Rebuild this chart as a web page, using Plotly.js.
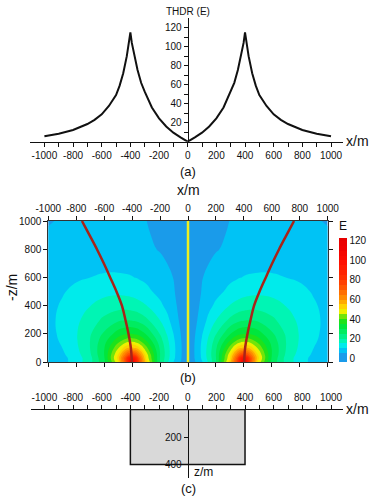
<!DOCTYPE html>
<html><head><meta charset="utf-8">
<script src="https://cdn.plot.ly/plotly-3.0.1.min.js"></script>
<style>html,body{margin:0;padding:0;background:#fff;}#chart{width:376px;height:498px;}</style>
</head><body><div id="chart"></div>
<script>
// ---------- (a) THDR profile at surface ----------
const profileX = [-1000,-900,-800,-700,-650,-600,-550,-500,-475,-450,-425,-410,-400,-390,-375,-350,-325,-300,-250,-200,-150,-100,-50,0,50,100,150,200,250,300,325,350,375,390,400,410,425,450,475,500,550,600,650,700,800,900,1000];
const profileE = [5.7,8.4,12.3,18.6,23,28.8,37.6,49,59,72,90,103,115,104,93,75.5,62,52.6,36,24.6,16,9.5,4.5,0,4.5,9.5,16,24.6,36,52.6,62,75.5,93,104,115,103,90,72,59,49,37.6,28.8,23,18.6,12.3,8.4,5.7];
const aXTickVals = [-1000,-900,-800,-700,-600,-500,-400,-300,-200,-100,0,100,200,300,400,500,600,700,800,900,1000];
const aXTickText = ['-1000','','-800','','-600','','-400','','-200','','0','','200','','400','','600','','800','','1000'];
const aYTickVals = [10,20,30,40,50,60,70,80,90,100,110,120];
const aYTickText = ['','20','','40','','60','','80','','100','','120'];

// ---------- (b) THDR section (x, height, E) ----------
const gridX = [-1000,-900,-800,-700,-600,-500,-450,-425,-400,-375,-350,-300,-200,-150,-100,0,100,150,200,300,350,375,400,425,450,500,600,700,800,900,1000];
const gridZ = [0,25,50,100,150,200,300,400,500,600,700,800,900,1000];
const row0    = [5.7,8.4,12.3,18.6,28.8,49,72,92,115,93,75.5,52.6,24.6,16,9.5,0,9.5,16,24.6,52.6,75.5,93,115,92,72,49,28.8,18.6,12.3,8.4,5.7];
const row25   = [6.1,8.5,12.2,18.4,29.4,51.7,74,91.3,104,90.7,73,49.6,24.8,17,10.6,0,10.6,17,24.8,49.6,73,90.7,104,91.3,74,51.7,29.4,18.4,12.2,8.5,6.1];
const row50   = [6.6,9.1,12.9,19.3,30.0,50.3,66.8,75.4,79.3,74.8,65.6,48.0,25.1,17.5,10.9,0,10.9,17.5,25.1,48.0,65.6,74.8,79.3,75.4,66.8,50.3,30.0,19.3,12.9,9.1,6.6];
const row100  = [7.4,10.0,14.0,20.1,29.7,44.4,52.4,55.1,55.9,54.4,51.1,41.8,24.2,17.2,11.0,0,11.0,17.2,24.2,41.8,51.1,54.4,55.9,55.1,52.4,44.4,29.7,20.1,14.0,10.0,7.4];
const row150  = [8.0,10.7,14.5,20.1,28.1,38.0,42.0,43.1,43.2,42.4,40.6,35.2,22.2,16.2,10.5,0,10.5,16.2,22.2,35.2,40.6,42.4,43.2,43.1,42.0,38.0,28.1,20.1,14.5,10.7,8.0];
const row200  = [8.5,11.0,14.6,19.5,25.8,32.4,34.5,35.0,34.9,34.2,33.1,29.5,19.7,14.7,9.6,0,9.6,14.7,19.7,29.5,33.1,34.2,34.9,35.0,34.5,32.4,25.8,19.5,14.6,11.0,8.5];
const row300  = [8.8,11.1,13.9,17.4,21.1,23.9,24.5,24.5,24.2,23.8,23.0,20.9,14.8,11.3,7.5,0,7.5,11.3,14.8,20.9,23.0,23.8,24.2,24.5,24.5,23.9,21.1,17.4,13.9,11.1,8.8];
const row400  = [8.7,10.5,12.6,14.9,16.9,18.1,18.1,17.9,17.6,17.2,16.6,15.2,11.0,8.7,6.2,0,6.2,8.7,11.0,15.2,16.6,17.2,17.6,17.9,18.1,18.1,16.9,14.9,12.6,10.5,8.7];
const row500  = [8.2,9.6,11.1,12.5,13.6,13.9,13.7,13.5,13.2,12.9,12.4,11.2,8.5,7.0,5.3,0,5.3,7.0,8.5,11.2,12.4,12.9,13.2,13.5,13.7,13.9,13.6,12.5,11.1,9.6,8.2];
const row600  = [7.5,8.5,9.4,10.0,10.5,10.6,10.5,10.4,10.2,9.9,9.6,9.0,7.2,6.1,4.8,0,4.8,6.1,7.2,9.0,9.6,9.9,10.2,10.4,10.5,10.6,10.5,10.0,9.4,8.5,7.5];
const row700  = [6.9,7.6,8.3,8.8,8.9,8.8,8.6,8.5,8.3,8.0,7.8,7.3,6.0,5.0,3.8,0,3.8,5.0,6.0,7.3,7.8,8.0,8.3,8.5,8.6,8.8,8.9,8.8,8.3,7.6,6.9];
const row800  = [6.3,6.8,7.2,7.4,7.4,7.2,7.0,6.9,6.7,6.5,6.3,5.9,4.7,3.9,3.0,0,3.0,3.9,4.7,5.9,6.3,6.5,6.7,6.9,7.0,7.2,7.4,7.4,7.2,6.8,6.3];
const row900  = [5.5,6.0,6.4,6.5,6.5,6.3,6.1,6.0,5.9,5.8,5.7,5.4,4.2,3.45,2.6,0,2.6,3.45,4.2,5.4,5.7,5.8,5.9,6.0,6.1,6.3,6.5,6.5,6.4,6.0,5.5];
const row1000 = [4.7,5.4,5.7,5.9,5.9,5.7,5.6,5.5,5.4,5.3,5.2,5.05,3.9,3.15,2.3,0,2.3,3.15,3.9,5.05,5.2,5.3,5.4,5.5,5.6,5.7,5.9,5.9,5.7,5.4,4.7];
const gridE = [row0,row25,row50,row100,row150,row200,row300,row400,row500,row600,row700,row800,row900,row1000];

const maxLineZ = [0,100,200,300,400,500,600,700,800,900,1000];
const maxLineLeftX = [-402,-409,-426,-448,-473,-512,-557,-603,-652,-705,-759];
const maxLineRightX = [402,409,426,448,473,512,557,603,652,705,759];
const minLineX = [0,0];
const minLineZ = [0,1000];
const bXTicks = [-1000,-800,-600,-400,-200,0,200,400,600,800,1000];
const bXTickText = ['-1000','-800','-600','-400','-200','0','200','400','600','800','1000'];
const bZTicks = [0,200,400,600,800,1000];
const cbTicks = [0,20,40,60,80,100,120];

// ---------- (c) model body ----------
const bodyX = [-400,400];
const bodyZ = [0,400];
const cZTicks = [200,400];

// ---------- styling ----------
const W = 376, H = 498;
const px = v => v / W;
const py = v => 1 - v / H;
const FONT = 'Liberation Sans, Arial, Helvetica, sans-serif';
const INK = '#111';

const zMin = -4, zMax = 123;
const levelStart = 5, levelEnd = 120, levelStep = 5;
const bandEdges = [-4,5,10,15,20,25,30,35,40,45,50,55,60,65,70,75,80,85,90,95,100,105,110,115,120,123];
const bandColors = ['#1A9BEA','#00C3F5','#00EBEB','#00F5B4','#00F08A','#00EC60','#00E63C','#1EE21A','#72E40A','#EEF000',
  '#FFD200','#FFAA00','#FF8A00','#FF6E00','#FF5500','#FF4000','#FF3000','#FF2400','#FF1A00','#FF1000',
  '#FA0800','#F50500','#F00000','#EB0000','#E60000'];
// stepped scale for the colour bar
const barScale = [];
for (let i = 0; i < bandColors.length; i++) {
  barScale.push([(bandEdges[i] - zMin) / (zMax - zMin), bandColors[i]]);
  barScale.push([(bandEdges[i + 1] - zMin) / (zMax - zMin), bandColors[i]]);
}
// one colour per filled band for the contour map
const fillScale = bandColors.map((c, k) => [k / (bandColors.length - 1), c]);

const traces = [
  {type:'scatter', mode:'lines', x:profileX, y:profileE, xaxis:'x', yaxis:'y',
   line:{color:INK, width:2}, hoverinfo:'skip'},
  {type:'heatmap', x:gridX, y:gridZ, z:gridE, xaxis:'x2', yaxis:'y2', zsmooth:'best',
   zmin:zMin, zmax:zMax, colorscale:barScale, hoverinfo:'skip',
   colorbar:{thickness:8, thicknessmode:'pixels', len:124/H, lenmode:'fraction',
     x:px(339), xanchor:'left', xpad:0, y:py(300), yanchor:'middle', ypad:0,
     outlinewidth:0, tickmode:'array', tickvals:cbTicks, ticks:'', ticklabelpad:2,
     tickfont:{family:FONT, size:10, color:INK}}},
  {type:'contour', x:gridX, y:gridZ, z:gridE, xaxis:'x2', yaxis:'y2', autocontour:false,
   contours:{start:levelStart, end:levelEnd, size:levelStep, coloring:'fill', showlines:false},
   line:{width:0, smoothing:1.3}, colorscale:fillScale, showscale:false, hoverinfo:'skip'},
  {type:'scatter', mode:'lines', x:minLineX, y:minLineZ, xaxis:'x2', yaxis:'y2',
   line:{color:'#EEF020', width:2.5}, hoverinfo:'skip'},
  {type:'scatter', mode:'lines', x:maxLineLeftX, y:maxLineZ, xaxis:'x2', yaxis:'y2',
   line:{color:'#A82418', width:2.5, shape:'spline'}, hoverinfo:'skip'},
  {type:'scatter', mode:'lines', x:maxLineRightX, y:maxLineZ, xaxis:'x2', yaxis:'y2',
   line:{color:'#A82418', width:2.5, shape:'spline'}, hoverinfo:'skip'},
  {type:'scatter', mode:'lines',
   x:[bodyX[0], bodyX[1], bodyX[1], bodyX[0], bodyX[0]],
   y:[bodyZ[0], bodyZ[0], bodyZ[1], bodyZ[1], bodyZ[0]],
   xaxis:'x3', yaxis:'y3', fill:'toself', fillcolor:'#D9D9D9',
   line:{color:INK, width:1.5}, hoverinfo:'skip'}
];

const axBase = {showgrid:false, zeroline:false, showline:true, linecolor:INK, linewidth:1,
  ticks:'outside', ticklen:4, tickwidth:1, tickcolor:INK, fixedrange:true,
  tickfont:{family:FONT, size:10, color:INK}};

function ann(text, x, y, size, extra) {
  return Object.assign({text:text, x:px(x), y:py(y), xref:'paper', yref:'paper',
    xanchor:'center', yanchor:'middle', showarrow:false,
    font:{family:FONT, size:size, color:INK}}, extra || {});
}

const layout = {
  width:W, height:H, margin:{l:0, r:0, t:0, b:0},
  paper_bgcolor:'#fff', plot_bgcolor:'rgba(0,0,0,0)', showlegend:false,
  font:{family:FONT, color:INK},
  xaxis: Object.assign({}, axBase, {domain:[px(30), px(343)], range:[-1100.5, 1083.7], anchor:'y',
    tickmode:'array', tickvals:aXTickVals, ticktext:aXTickText}),
  yaxis: Object.assign({}, axBase, {domain:[py(141.7), py(18)], range:[0, 130.2], anchor:'free',
    position:px(187.7), tickmode:'array', tickvals:aYTickVals, ticktext:aYTickText}),
  xaxis2: Object.assign({}, axBase, {domain:[px(48.3), px(327.7)], range:[-1000, 1000], anchor:'y2',
    side:'top', mirror:'ticks', linecolor:'#333', tickmode:'array', tickvals:bXTicks, ticktext:bXTickText}),
  yaxis2: Object.assign({}, axBase, {domain:[py(362), py(221)], range:[0, 1000], anchor:'x2',
    mirror:'ticks', linecolor:'#333', tickmode:'array', tickvals:bZTicks}),
  xaxis3: Object.assign({}, axBase, {domain:[px(31), px(343)], range:[-1093.5, 1083.7], anchor:'y3',
    side:'top', tickmode:'array', tickvals:aXTickVals, ticktext:aXTickText}),
  yaxis3: Object.assign({}, axBase, {domain:[py(478), py(409.5)], range:[498, 0], anchor:'free',
    position:px(187.7), tickmode:'array', tickvals:cZTicks}),
  annotations: [
    ann('THDR (E)', 188, 11, 10),
    ann('x/m', 357, 141, 14),
    ann('(a)', 188, 171, 13),
    ann('x/m', 188, 190, 14),
    ann('-z/m', 12, 287, 14, {textangle:-90}),
    ann('E', 343, 226, 12),
    ann('(b)', 188, 377, 13),
    ann('x/m', 357, 409, 14),
    ann('z/m', 203, 472, 12),
    ann('(c)', 188, 488, 13)
  ]
};

Plotly.newPlot('chart', traces, layout, {staticPlot:true, displayModeBar:false});
</script></body></html>
